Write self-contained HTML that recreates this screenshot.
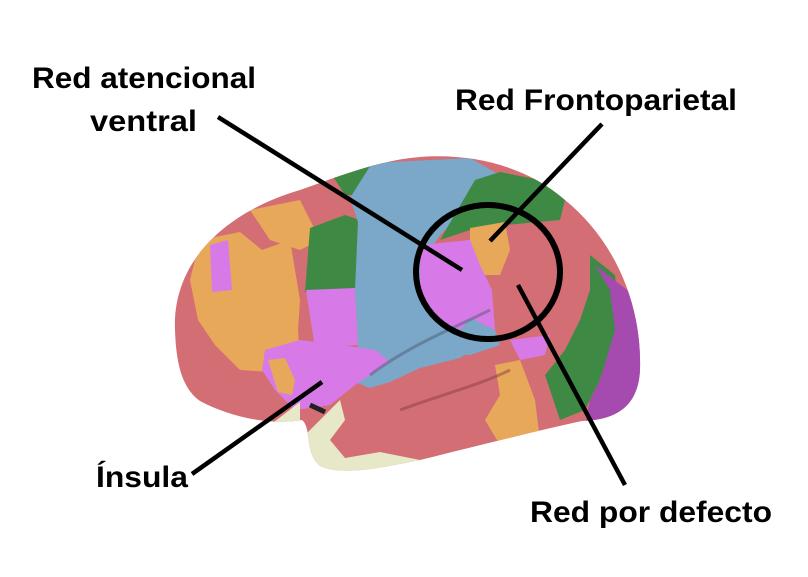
<!DOCTYPE html>
<html><head><meta charset="utf-8"><style>html,body{margin:0;padding:0;background:#fff}svg{display:block}</style></head>
<body>
<svg width="808" height="577" viewBox="0 0 808 577" xmlns="http://www.w3.org/2000/svg">
<defs>
<clipPath id="b"><path d="M175,330 C172,262 225,212 300,190 C340,176 380,160 420,157 C470,153 525,165 565,200 C612,238 642,300 640,370 C638,410 612,420 582,421 C540,430 480,445 420,460 C380,468 342,476 320,466 C304,452 312,428 302,420 C268,426 228,416 200,401 C181,388 176,360 175,330 Z"/></clipPath>
</defs>
<g clip-path="url(#b)">
<rect x="160" y="140" width="500" height="350" fill="#d46e75"/>
<path d="M200,240 L240,232 L262,250 L290,240 L300,300 L298,330 L300,360 L270,372 L240,370 L215,345 L198,320 L190,280 Z" fill="#e8a85a"/>
<path d="M250,210 L300,200 L320,240 L300,250 L270,240 Z" fill="#e8a85a"/>
<path d="M210,245 L228,240 L232,290 L212,292 Z" fill="#d77ae8"/>
<path d="M330,172 L375,165 L380,195 L345,195 Z" fill="#3e8a45"/>
<path d="M310,228 L345,215 L360,220 L358,290 L330,295 L305,292 Z" fill="#3e8a45"/>
<path d="M306,290 L355,288 L358,345 L315,348 Z" fill="#d77ae8"/>
<path d="M372,163 L470,158 L505,178 L470,205 L440,235 L420,265 L440,300 L470,318 L485,340 L460,358 L420,368 L390,382 L370,388 L345,378 L358,345 L355,290 L358,222 L350,198 Z" fill="#7ba7c8"/>
<path d="M265,350 L300,340 L340,345 L375,350 L390,362 L355,385 L330,405 L295,410 L275,390 L262,370 Z" fill="#d77ae8"/>
<path d="M268,360 L285,358 L295,380 L292,395 L278,392 Z" fill="#e8a85a"/>
<path d="M475,180 L500,172 L540,180 L565,200 L560,220 L505,225 L470,230 L440,240 Z" fill="#3e8a45"/>
<path d="M590,255 L615,275 L620,330 L600,380 L585,410 L560,420 L545,375 L565,350 L580,320 L590,290 Z" fill="#3e8a45"/>
<path d="M595,265 L640,300 L645,425 L585,425 L590,400 L600,380 L615,330 L610,290 Z" fill="#a54bb0"/>
<path d="M470,228 L505,222 L510,250 L500,275 L485,275 L470,255 Z" fill="#e8a85a"/>
<path d="M420,245 L470,240 L480,265 L492,290 L495,330 L470,335 L440,320 L420,300 Z" fill="#d77ae8"/>
<path d="M470,318 L495,330 L500,345 L470,355 L440,355 Z" fill="#7ba7c8"/>
<path d="M510,340 L550,335 L545,355 L520,360 Z" fill="#d77ae8"/>
<path d="M495,365 L520,360 L535,400 L540,440 L500,445 L485,420 L500,395 Z" fill="#e8a85a"/>
<path d="M300,440 L340,400 L345,420 L330,440 L345,458 L380,452 L420,460 L330,480 L300,470 Z" fill="#e6e8c8"/>
<path d="M300,402 L270,425 L240,420 L205,405 L200,415 L250,440 L300,430 Z" fill="#e6e8c8"/>
<path d="M370,375 C410,345 450,330 490,310" stroke="#4d5e70" stroke-width="3" fill="none" opacity="0.5"/>
<path d="M400,410 C440,395 480,385 510,370" stroke="#8a3c44" stroke-width="3" fill="none" opacity="0.5"/>
<path d="M310,405 L325,412" stroke="#222" stroke-width="5"/>
</g>
<ellipse cx="488" cy="272" rx="72" ry="67" fill="none" stroke="#000" stroke-width="6"/>
<g stroke="#000" stroke-width="4.5" stroke-linecap="butt">
<line x1="218" y1="117" x2="462" y2="270"/>
<line x1="602" y1="124" x2="490" y2="241"/>
<line x1="322" y1="382" x2="192" y2="474"/>
<line x1="518" y1="285" x2="625" y2="485"/>
</g>
<g font-family="Liberation Sans, sans-serif" font-weight="bold" font-size="30" fill="#000">
<text x="32" y="88" textLength="224" lengthAdjust="spacingAndGlyphs">Red atencional</text>
<text x="90" y="131" textLength="107" lengthAdjust="spacingAndGlyphs">ventral</text>
<text x="455" y="110" textLength="282" lengthAdjust="spacingAndGlyphs">Red Frontoparietal</text>
<text x="96" y="487" textLength="92" lengthAdjust="spacingAndGlyphs">Ínsula</text>
<text x="530" y="522" textLength="242" lengthAdjust="spacingAndGlyphs">Red por defecto</text>
</g>
</svg>
</body></html>
